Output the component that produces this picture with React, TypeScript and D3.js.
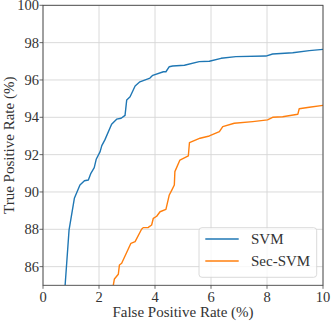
import React from "react";
import * as d3 from "d3";

// ROC curves (FPR %, TPR %)
const svmFpr = [0.79, 0.93, 1.12, 1.32, 1.48, 1.62, 1.71, 1.83, 1.9, 2.04, 2.1, 2.21, 2.45, 2.63, 2.79, 2.93, 2.99, 3.11, 3.29, 3.46, 3.82, 3.92, 4.3, 4.39, 4.51, 4.63, 5.05, 5.58, 5.94, 6.36, 6.89, 7.96, 8.2, 8.92, 9.51, 10];
const svmTpr = [85, 87.95, 89.66, 90.37, 90.6, 90.64, 91.0, 91.3, 91.75, 92.16, 92.48, 92.79, 93.63, 93.9, 93.95, 94.1, 94.93, 95.1, 95.68, 95.9, 96.1, 96.25, 96.44, 96.44, 96.71, 96.75, 96.79, 96.98, 97.0, 97.16, 97.25, 97.28, 97.39, 97.46, 97.57, 97.64];

const secFpr = [2.51, 2.55, 2.69, 2.73, 2.81, 3.14, 3.29, 3.52, 3.58, 3.76, 3.88, 3.94, 4.06, 4.18, 4.39, 4.51, 4.6, 4.69, 4.71, 4.89, 5.19, 5.23, 5.61, 5.94, 6.3, 6.42, 6.83, 7.49, 8.02, 8.2, 8.56, 9.1, 9.15, 9.51, 10];
const secTpr = [85, 85.34, 85.59, 86.09, 86.18, 87.25, 87.34, 88.0, 88.09, 88.1, 88.23, 88.59, 88.7, 88.94, 89.07, 89.84, 90.1, 90.37, 91.09, 91.71, 91.93, 92.64, 92.88, 93.0, 93.23, 93.5, 93.68, 93.77, 93.86, 94.0, 94.03, 94.16, 94.46, 94.54, 94.64];

const xTicks = [0, 2, 4, 6, 8, 10];
const yTicks = [86, 88, 90, 92, 94, 96, 98, 100];
const seriesNames = ["SVM", "Sec-SVM"];
const seriesColors = ["#1f77b4", "#ff7f0e"];

const W = 332;
const H = 321;
const margin = { top: 5.3, right: 9, bottom: 35.7, left: 43 };
const font = "Liberation Serif";

export default function App() {
  const x = d3.scaleLinear().domain([0, 10]).range([margin.left, W - margin.right]);
  const y = d3.scaleLinear().domain([85, 100]).range([H - margin.bottom, margin.top]);

  const line = d3
    .line<[number, number]>()
    .x((d) => x(d[0]))
    .y((d) => y(d[1]));

  const series = [
    svmFpr.map((v, i) => [v, svmTpr[i]] as [number, number]),
    secFpr.map((v, i) => [v, secTpr[i]] as [number, number]),
  ];

  const [x0, x1] = x.range();
  const [y0, y1] = y.range();

  const legX = 199;
  const legY = 227.7;
  const txt = { fontFamily: font };

  return (
    <svg width={W} height={H} style={{ position: "absolute", left: 0, top: 0, background: "#fff" }}>
      <defs>
        <clipPath id="plot">
          <rect x={x0} y={y1} width={x1 - x0} height={y0 - y1} />
        </clipPath>
      </defs>

      {/* grid */}
      <g stroke="#d6d6d6" strokeWidth={0.9}>
        {xTicks.map((t) => (
          <line key={"gx" + t} x1={x(t)} x2={x(t)} y1={y1} y2={y0} />
        ))}
        {yTicks.map((t) => (
          <line key={"gy" + t} x1={x0} x2={x1} y1={y(t)} y2={y(t)} />
        ))}
      </g>

      {/* curves */}
      <g clipPath="url(#plot)" fill="none" strokeWidth={1.4} strokeLinejoin="round">
        {series.map((s, i) => (
          <path key={i} d={line(s) || ""} stroke={seriesColors[i]} />
        ))}
      </g>

      {/* spines */}
      <rect x={x0} y={y1} width={x1 - x0} height={y0 - y1} fill="none" stroke="#444" strokeWidth={0.9} />

      {/* ticks */}
      <g stroke="#444" strokeWidth={0.8}>
        {xTicks.map((t) => (
          <line key={"tx" + t} x1={x(t)} x2={x(t)} y1={y0} y2={y0 + 3.5} />
        ))}
        {yTicks.map((t) => (
          <line key={"ty" + t} x1={x0 - 3.5} x2={x0} y1={y(t)} y2={y(t)} />
        ))}
      </g>

      <g fontSize={14.5} fill="#333">
        {xTicks.map((t) => (
          <text key={"lx" + t} x={x(t)} y={y0 + 17} textAnchor="middle" style={txt}>
            {t}
          </text>
        ))}
        {yTicks.map((t) => (
          <text key={"ly" + t} x={x0 - 4} y={y(t) + 5} textAnchor="end" style={txt}>
            {t}
          </text>
        ))}
      </g>

      <text x={(x0 + x1) / 2} y={H - 4} textAnchor="middle" fontSize={15} fill="#333" style={txt}>
        False Positive Rate (%)
      </text>
      <text
        transform={`translate(14,${(y0 + y1) / 2}) rotate(-90)`}
        textAnchor="middle"
        fontSize={15}
        fill="#333"
        style={txt}
      >
        True Positive Rate (%)
      </text>

      {/* legend */}
      <rect
        x={legX}
        y={legY}
        width={117.7}
        height={49.6}
        rx={3}
        fill="#fff"
        fillOpacity={0.8}
        stroke="#d0d0d0"
        strokeWidth={0.8}
      />
      {seriesNames.map((n, i) => (
        <g key={n}>
          <line
            x1={legX + 6.3}
            x2={legX + 39.7}
            y1={legY + 11.3 + i * 22}
            y2={legY + 11.3 + i * 22}
            stroke={seriesColors[i]}
            strokeWidth={1.4}
          />
          <text x={legX + 52} y={legY + 16.3 + i * 22} fontSize={15} fill="#333" style={txt}>
            {n}
          </text>
        </g>
      ))}
    </svg>
  );
}
